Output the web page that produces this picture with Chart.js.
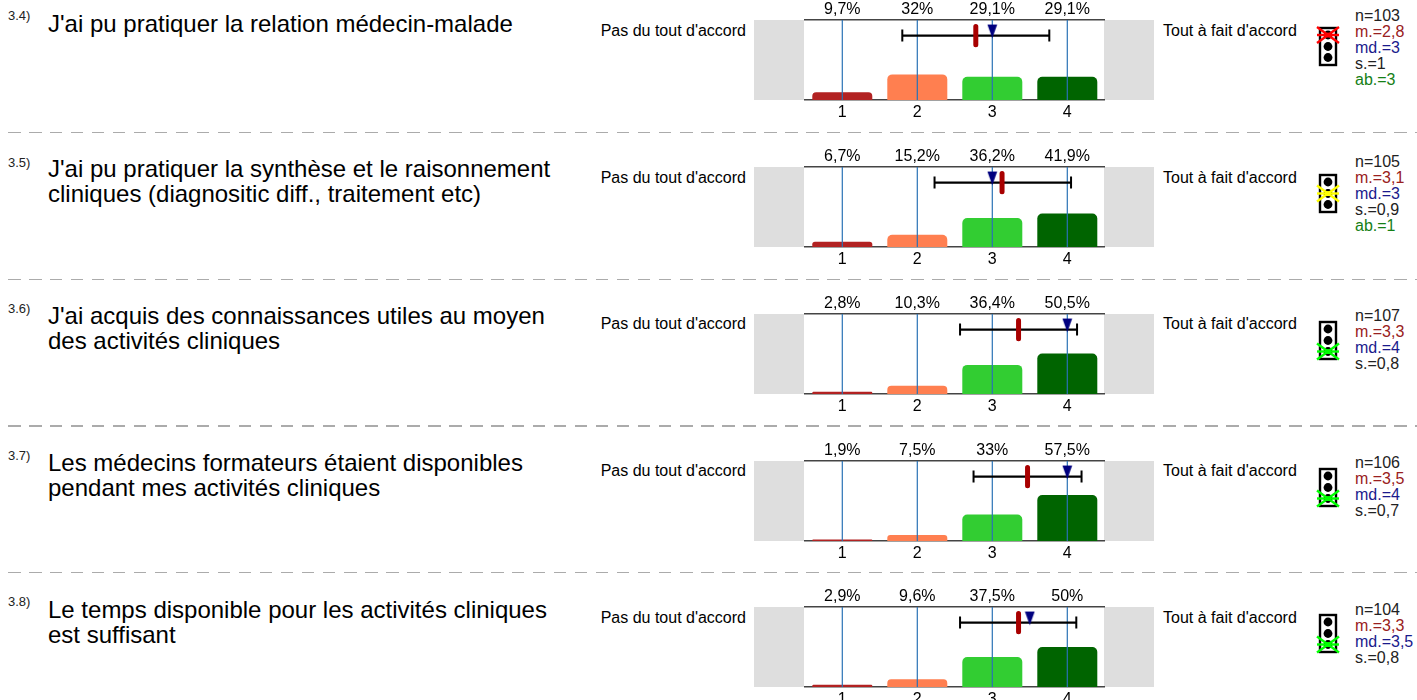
<!DOCTYPE html>
<html lang="fr"><head><meta charset="utf-8">
<script src="https://cdn.jsdelivr.net/npm/chart.js@4"></script>
<style>
html,body{margin:0;padding:0;width:1417px;height:700px;overflow:hidden;background:#fff;font-family:"Liberation Sans",Arial,sans-serif;color:#000}
.a{position:absolute;white-space:nowrap}
.q{font-size:24px;line-height:25px;left:48px}
.n{font-size:13px;left:8px;line-height:14px;color:#222}
.lab{font-size:16px;line-height:18px}
.st{font-size:16px;line-height:16px;left:1355px}
.grey{background:#dedede;width:50px;height:80px}
.sep{left:8px;width:1409px;border:0;height:1.5px;background:repeating-linear-gradient(90deg,#ababab 0 12.5px,transparent 12.5px 21px)}
canvas{position:absolute}
</style></head><body>
<script>
const questionNumbers = ["3.4)","3.5)","3.6)","3.7)","3.8)"];
const questionLines = [
 ["J'ai pu pratiquer la relation médecin-malade"],
 ["J'ai pu pratiquer la synthèse et le raisonnement","cliniques (diagnositic diff., traitement etc)"],
 ["J'ai acquis des connaissances utiles au moyen","des activités cliniques"],
 ["Les médecins formateurs étaient disponibles","pendant mes activités cliniques"],
 ["Le temps disponible pour les activités cliniques","est suffisant"]
];
const categories = ["1","2","3","4"];
const scaleLeftLabel = "Pas du tout d'accord";
const scaleRightLabel = "Tout à fait d'accord";
const percentLabels = [
 ["9,7%","32%","29,1%","29,1%"],
 ["6,7%","15,2%","36,2%","41,9%"],
 ["2,8%","10,3%","36,4%","50,5%"],
 ["1,9%","7,5%","33%","57,5%"],
 ["2,9%","9,6%","37,5%","50%"]
];
const percentValues = [
 [9.7,32,29.1,29.1],
 [6.7,15.2,36.2,41.9],
 [2.8,10.3,36.4,50.5],
 [1.9,7.5,33,57.5],
 [2.9,9.6,37.5,50]
];
const barColors = ["#b22222","#ff7f50","#32cd32","#006400"];
const means = [2.78,3.13,3.35,3.47,3.35];
const medians = [3,3,4,4,3.5];
const sdLow = [1.8,2.23,2.57,2.75,2.57];
const sdHigh = [3.76,4.05,4.13,4.19,4.12];
const statsText = [
 ["n=103","m.=2,8","md.=3","s.=1","ab.=3"],
 ["n=105","m.=3,1","md.=3","s.=0,9","ab.=1"],
 ["n=107","m.=3,3","md.=4","s.=0,8"],
 ["n=106","m.=3,5","md.=4","s.=0,7"],
 ["n=104","m.=3,3","md.=3,5","s.=0,8"]
];
const statsColors = ["#222","#992020","#1a1a8c","#222","#158015"];
const lightStates = [0,1,2,2,2];
const lightColors = ["#ff0000","#ffff00","#00ff00"];

// layout
const rowTop = [20,167,314,461,607];
const qTop = [11,156,303,450,597];
const nTop = [9,156,302,449,595];
const labTop = [22,169,315,462,609];
const sepY = [131.5,278.5,425,571.5];
const statTop = [8,154,308,455,602];

function el(cls,txt,x,y,col){const d=document.createElement('div');d.className='a '+cls;if(txt)d.textContent=txt;
 if(x!=null)d.style.left=x+'px';d.style.top=y+'px';if(col)d.style.color=col;document.body.appendChild(d);return d;}

// median marker: downward navy triangle
const tri=document.createElement('canvas');tri.width=11;tri.height=15;
{const c=tri.getContext('2d');c.fillStyle='#00007f';c.beginPath();c.moveTo(.6,.7);c.lineTo(10.4,.7);c.lineTo(5.5,14.5);c.closePath();c.fill();}

const tickFont={family:'"Liberation Sans"',size:16};
rowTop.forEach((top,i)=>{
 el('n',questionNumbers[i],null,nTop[i]);
 questionLines[i].forEach((t,k)=>el('q',t,null,qTop[i]+k*25));
 const lb=el('lab',scaleLeftLabel,null,labTop[i]);lb.style.right=(1417-746)+'px';
 el('lab',scaleRightLabel,1163,labTop[i]);
 el('grey','',754,top);el('grey','',1104,top);
 statsText[i].forEach((t,k)=>el('st',t,null,statTop[i]+k*16,statsColors[k]));

 // traffic light
 const ns='http://www.w3.org/2000/svg';
 const s=document.createElementNS(ns,'svg');s.setAttribute('width','26');s.setAttribute('height','44');
 s.setAttribute('class','a');s.style.left='1315px';s.style.top=(top+5)+'px';s.setAttribute('viewBox','0 0 26 44');
 const add=(n,o)=>{const e=document.createElementNS(ns,n);for(const k in o)e.setAttribute(k,o[k]);s.appendChild(e);};
 add('rect',{x:5,y:3,width:16,height:37,fill:'#fff',stroke:'#000','stroke-width':2.4});
 const cys=[10,21.5,32.5];
 cys.forEach(cy=>add('circle',{cx:13,cy,r:4.4,fill:'#000'}));
 const cy=cys[lightStates[i]],col=lightColors[lightStates[i]];
 [[2,cy-8,24,cy+8],[2,cy+8,24,cy-8],[2,cy,24,cy]].forEach(l=>add('line',{x1:l[0],y1:l[1],x2:l[2],y2:l[3],stroke:col,'stroke-width':2.4}));
 add('circle',{cx:13,cy,r:2.6,fill:col});
 document.body.appendChild(s);

 const cv=document.createElement('canvas');
 cv.style.left='803px';cv.style.top=(top-20)+'px';cv.width=302;cv.height=122;cv.style.width='302px';cv.style.height='122px';
 document.body.appendChild(cv);

 const blueLines=categories.map((c,k)=>({type:'line',xAxisID:'xv',yAxisID:'y',order:4,
   data:[{x:k+1,y:0},{x:k+1,y:100}],borderColor:'#2a72b5',borderWidth:1.2,pointRadius:0}));
 const noPad=(h)=>a=>{a.height=h;a.paddingLeft=0;a.paddingRight=0;};
 new Chart(cv,{
  type:'bar',
  data:{labels:categories,datasets:[
   {type:'bar',xAxisID:'x',yAxisID:'y',order:5,data:percentValues[i],backgroundColor:barColors,grouped:false,
    categoryPercentage:.8,barPercentage:1,borderRadius:{topLeft:5,topRight:5},borderSkipped:'bottom'},
   ...blueLines,
   {type:'line',xAxisID:'xv',yAxisID:'y',order:3,data:[{x:sdLow[i],y:80.5},{x:sdHigh[i],y:80.5}],
    borderColor:'#000',borderWidth:2.2,pointStyle:'line',pointRotation:90,pointRadius:6,pointBorderColor:'#000',pointBorderWidth:2},
   {type:'line',xAxisID:'xv',yAxisID:'y',order:2,data:[{x:means[i],y:92},{x:means[i],y:69}],
    borderColor:'#a80000',borderWidth:5,borderCapStyle:'round',pointRadius:0},
   {type:'line',xAxisID:'xv',yAxisID:'y',order:1,data:[{x:medians[i],y:86}],showLine:false,
    pointStyle:tri,pointRadius:6}
  ]},
  options:{
   responsive:false,animation:false,events:[],
   layout:{autoPadding:false,padding:{left:1.8,right:0.2,top:0,bottom:0}},
   plugins:{legend:{display:false},tooltip:{enabled:false}},
   scales:{
    x:{type:'category',position:'bottom',offset:true,grid:{display:false,drawTicks:false},
       border:{display:true,color:'#444',width:1.5},
       ticks:{color:'#000',font:tickFont,padding:3,autoSkip:false,maxRotation:0},
       afterFit:noPad(22)},
    xTop:{type:'category',position:'top',labels:percentLabels[i],offset:true,grid:{display:false,drawTicks:false},
       border:{display:true,color:'#444',width:1.5},
       ticks:{color:'#000',font:tickFont,padding:1,autoSkip:false,maxRotation:0},
       afterFit:noPad(20)},
    xv:{type:'linear',display:false,min:.5,max:4.5,offset:false},
    y:{type:'linear',display:false,min:0,max:100}
   }
  }
 });
});
sepY.forEach(y=>el('sep','',null,y));
</script>
</body></html>
